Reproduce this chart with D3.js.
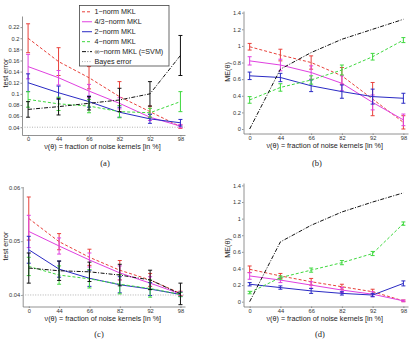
<!DOCTYPE html>
<html>
<head>
<meta charset="utf-8">
<script src="https://cdn.jsdelivr.net/npm/d3@7"></script>
<style>
  body { margin: 0; background: #fff; }
  svg { display: block; }
  .tick text { font-family: "Liberation Sans", Arial, sans-serif; font-size: 5.7px; fill: #333; }
  .lab { font-family: "Liberation Sans", Arial, sans-serif; font-size: 7.2px; fill: #222; }
  .cap { font-family: "Liberation Serif", serif; font-size: 8.5px; fill: #222; }
</style>
</head>
<body>
<svg id="chart" width="410" height="342"></svg>
<script>
// categories (x axis)
const noiseTicks = ["0", "44", "66", "82", "92", "98"];
const seriesNames = ["1\u2212norm MKL", "4/3\u2212norm MKL", "2\u2212norm MKL", "4\u2212norm MKL", "\u221e\u2212norm MKL (=SVM)"];
const bayesName = "Bayes error";

// (a) test error
const aMeans = [
  [0.200, 0.158, 0.129, 0.095, 0.068, 0.041],
  [0.149, 0.129, 0.105, 0.083, 0.058, 0.042],
  [0.120, 0.102, 0.086, 0.067, 0.055, 0.048],
  [0.090, 0.082, 0.078, 0.068, 0.066, 0.086],
  [0.072, 0.077, 0.083, 0.089, 0.100, 0.169]
];
const aErr = [
  [0.026, 0.025, 0.020, 0.027, 0.010, 0.003],
  [0.022, 0.013, 0.012, 0.010, 0.006, 0.003],
  [0.016, 0.012, 0.010, 0.009, 0.008, 0.006],
  [0.014, 0.012, 0.012, 0.011, 0.008, 0.018],
  [0.014, 0.015, 0.012, 0.021, 0.022, 0.036]
];
const aBayes = 0.04;
const aYTicks = [0.04, 0.06, 0.08, 0.1, 0.12, 0.14, 0.16, 0.18, 0.2, 0.22];

// (b) ME(theta)
const bMeans = [
  [0.99, 0.89, 0.80, 0.64, 0.36, 0.08],
  [0.82, 0.77, 0.68, 0.55, 0.32, 0.11],
  [0.64, 0.62, 0.52, 0.45, 0.39, 0.37],
  [0.35, 0.50, 0.59, 0.71, 0.87, 1.07],
  [0.00, 0.72, 0.92, 1.08, 1.20, 1.32]
];
const bErr = [
  [0.04, 0.07, 0.08, 0.10, 0.20, 0.08],
  [0.05, 0.07, 0.08, 0.09, 0.09, 0.07],
  [0.045, 0.05, 0.07, 0.08, 0.09, 0.06],
  [0.04, 0.045, 0.05, 0.06, 0.04, 0.03],
  [0, 0, 0, 0, 0, 0]
];
const meTicks = [0, 0.2, 0.4, 0.6, 0.8, 1, 1.2, 1.4];

// (c) test error
const cMeans = [
  [0.0542, 0.0499, 0.0470, 0.0446, 0.0428, 0.0403],
  [0.0518, 0.0491, 0.0465, 0.0441, 0.0422, 0.0402],
  [0.0484, 0.0448, 0.0431, 0.0419, 0.0411, 0.0401],
  [0.0453, 0.0437, 0.0430, 0.0420, 0.0412, 0.0401],
  [0.0450, 0.0445, 0.0443, 0.0437, 0.0428, 0.0402]
];
const cErr = [
  [0.0040, 0.0015, 0.0015, 0.0018, 0.0012, 0.0004],
  [0.0030, 0.0015, 0.0013, 0.0013, 0.0012, 0.0004],
  [0.0025, 0.0015, 0.0015, 0.0015, 0.0012, 0.0004],
  [0.0017, 0.0017, 0.0017, 0.0018, 0.0016, 0.0004],
  [0.0028, 0.0018, 0.0018, 0.0020, 0.0018, 0.0020]
];
const cBayes = 0.04;
const cYTicks = [0.04, 0.05, 0.06];

// (d) ME(theta)
const dMeans = [
  [0.39, 0.31, 0.24, 0.18, 0.12, 0.01],
  [0.31, 0.26, 0.20, 0.14, 0.09, 0.01],
  [0.21, 0.17, 0.13, 0.10, 0.08, 0.22],
  [0.11, 0.29, 0.38, 0.47, 0.58, 0.94],
  [0.00, 0.72, 0.92, 1.08, 1.20, 1.31]
];
const dErr = [
  [0.04, 0.03, 0.04, 0.03, 0.03, 0.01],
  [0.04, 0.03, 0.04, 0.03, 0.03, 0.01],
  [0.02, 0.02, 0.03, 0.02, 0.02, 0.03],
  [0.015, 0.02, 0.025, 0.025, 0.025, 0.02],
  [0, 0, 0, 0, 0, 0]
];

const colors = ["#e8413b", "#e040e0", "#2a2ac4", "#3ed83e", "#111111"];
const dashes = ["3,2", null, null, "3,2", "4,1.5,1,1.5"];

const svg = d3.select("#chart");

function drawPanel(p) {
  const g = svg.append("g");
  const x = d3.scaleLinear().domain([-0.2, 5.15]).range([p.left, p.right]);
  const y = d3.scaleLinear().domain(p.yDomain).range([p.bottom, p.top]);

  const xAxis = d3.axisBottom(x)
    .tickValues(d3.range(noiseTicks.length))
    .tickFormat(i => noiseTicks[i])
    .tickSizeInner(1.5).tickSizeOuter(0).tickPadding(0.8);
  const yAxis = d3.axisLeft(y)
    .tickValues(p.yTicks).tickFormat(d3.format("~g"))
    .tickSizeInner(1.5).tickSizeOuter(0).tickPadding(1);

  g.append("g").attr("transform", `translate(0,${p.bottom})`).call(xAxis);
  g.append("g").attr("transform", `translate(${p.left},0)`).call(yAxis);
  g.selectAll(".domain, .tick line").attr("stroke", "#777").attr("stroke-width", 0.8);

  if (p.bayes != null) {
    g.append("line")
      .attr("x1", p.left).attr("x2", p.right)
      .attr("y1", y(p.bayes)).attr("y2", y(p.bayes))
      .attr("stroke", "#aaa").attr("stroke-width", 0.9)
      .attr("stroke-dasharray", "1,1.5");
  }

  const line = d3.line().x((d, i) => x(i)).y(d => y(d));

  p.means.forEach((s, k) => {
    g.append("path")
      .attr("d", line(s))
      .attr("fill", "none")
      .attr("stroke", colors[k])
      .attr("stroke-width", 1)
      .attr("stroke-dasharray", dashes[k]);

    s.forEach((m, i) => {
      const e = p.err[k][i];
      if (!e) return;
      const cx = x(i), y1 = y(m - e), y2 = y(m + e);
      const bar = g.append("g").attr("stroke", colors[k]).attr("stroke-width", 1);
      bar.append("line").attr("x1", cx).attr("x2", cx).attr("y1", y1).attr("y2", y2);
      bar.append("line").attr("x1", cx - 2).attr("x2", cx + 2).attr("y1", y1).attr("y2", y1);
      bar.append("line").attr("x1", cx - 2).attr("x2", cx + 2).attr("y1", y2).attr("y2", y2);
    });
  });

  g.append("text").attr("class", "lab")
    .attr("x", (p.left + p.right) / 2 - 1).attr("y", p.bottom + 14)
    .attr("text-anchor", "middle")
    .text("\u03bd(\u03b8) =  fraction of noise kernels [in %]");

  g.append("text").attr("class", "lab")
    .attr("transform", `translate(${p.ylabX},${p.ylabY}) rotate(-90)`)
    .attr("text-anchor", "middle")
    .text(p.ylabel);

  g.append("text").attr("class", "cap")
    .attr("x", p.capX).attr("y", p.capY)
    .attr("text-anchor", "middle")
    .text(p.caption);
}

drawPanel({ left: 22, right: 185, top: 16, bottom: 135, yDomain: [0.026, 0.24],
  yTicks: aYTicks, means: aMeans, err: aErr, bayes: aBayes,
  ylabel: "test error", ylabX: 7.5, ylabY: 73, caption: "(a)", capX: 105, capY: 166 });
drawPanel({ left: 243.5, right: 408, top: 11, bottom: 133.5, yDomain: [-0.054, 1.42],
  yTicks: meTicks, means: bMeans, err: bErr, bayes: null,
  ylabel: "ME(\u03b8)", ylabX: 229.5, ylabY: 72, caption: "(b)", capX: 317, capY: 166 });
drawPanel({ left: 22.7, right: 185, top: 186.5, bottom: 306.5, yDomain: [0.03786, 0.06015],
  yTicks: cYTicks, means: cMeans, err: cErr, bayes: cBayes,
  ylabel: "test error", ylabX: 7.5, ylabY: 246, caption: "(c)", capX: 99, capY: 337 });
drawPanel({ left: 243.5, right: 408, top: 183, bottom: 306.5, yDomain: [-0.058, 1.429],
  yTicks: meTicks, means: dMeans, err: dErr, bayes: null,
  ylabel: "ME(\u03b8)", ylabX: 229.5, ylabY: 248, caption: "(d)", capX: 320, capY: 337 });

// legend of (a)
const leg = svg.append("g");
leg.append("rect").attr("x", 79.5).attr("y", 5.5).attr("width", 89.5).attr("height", 60.5)
  .attr("fill", "#fff").attr("stroke", "#444").attr("stroke-width", 0.8);
const legNames = seriesNames.concat([bayesName]);
const legColors = colors.concat(["#aaa"]);
const legDashes = dashes.concat(["1,1.5"]);
const rowY = d3.scaleLinear().domain([0, 5]).range([11.8, 61.6]);
legNames.forEach((n, k) => {
  leg.append("line").attr("x1", 82).attr("x2", 92).attr("y1", rowY(k)).attr("y2", rowY(k))
    .attr("stroke", legColors[k]).attr("stroke-width", 1).attr("stroke-dasharray", legDashes[k]);
  leg.append("text").attr("class", "lab").attr("x", 94.5).attr("y", rowY(k) + 2.6)
    .style("font-size", "7.2px").text(n);
});
</script>
</body>
</html>
